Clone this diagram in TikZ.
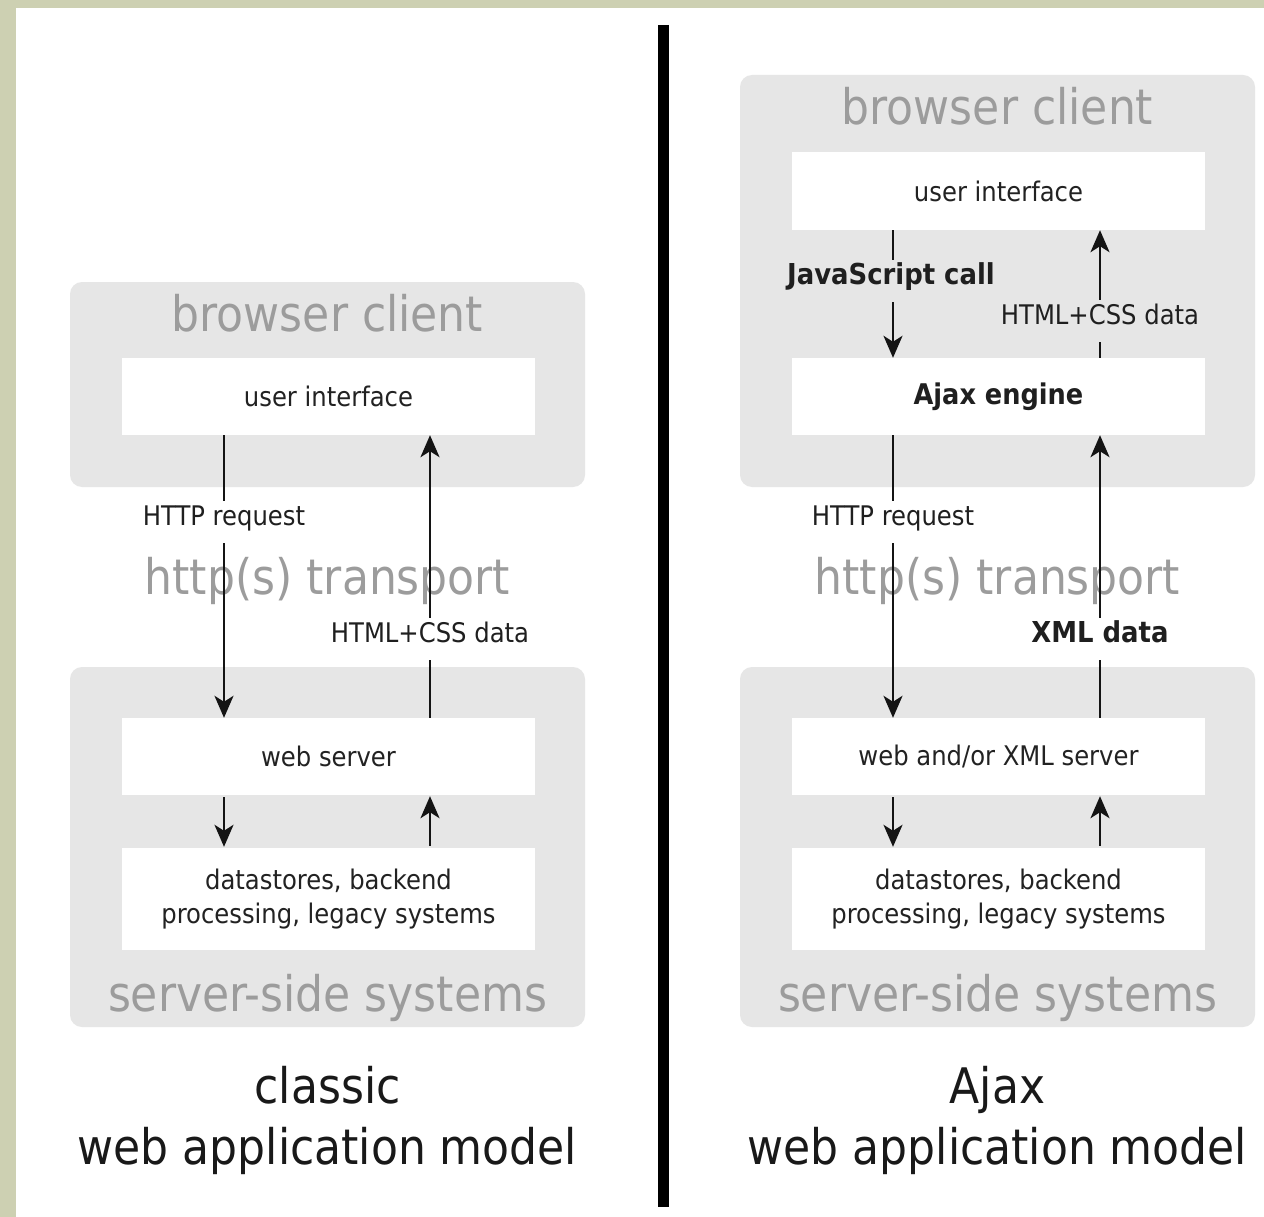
\documentclass[tikz,border=0pt]{standalone}
\usepackage{fontspec}
\setmainfont{DejaVu Sans Condensed}
\usetikzlibrary{arrows.meta}
\definecolor{beige}{HTML}{CDD0B2}
\definecolor{panel}{HTML}{E6E6E6}
\definecolor{ttl}{HTML}{9C9C9C}
\definecolor{ink}{HTML}{222222}
\tikzset{
  panelbox/.style={fill=panel, rounded corners=12pt, draw=none, minimum width=515pt, inner sep=0pt},
  inbox/.style={fill=white, draw=none, minimum width=413pt, inner sep=0pt, text=ink, align=center,
    font=\fontsize{27}{34}\selectfont},
  bigttl/.style={text=ttl, inner sep=0pt, text height=0.75em, text depth=0.05em, font=\fontsize{49}{60}\selectfont},
  bottomttl/.style={text=black!90, inner sep=0pt, align=center, font=\fontsize{49}{61}\selectfont},
  lbl/.style={text=black!88, inner xsep=2pt, inner ysep=0pt, minimum height=42pt,
    text height=0.75em, text depth=0.05em, font=\fontsize{27}{34}\selectfont},
  blbl/.style={lbl, font=\fontsize{28.8}{34}\selectfont\bfseries},
  ln/.style={line width=2.5pt, black!92},
  arr/.style={ln, -{Stealth[length=22pt, width=19pt, inset=6pt]}},
}
\begin{document}
\begin{tikzpicture}[x=1pt, y=-1pt]
\useasboundingbox (0,0) rectangle (1264,1217);
\fill[beige] (0,0) rectangle (1264,1217);
\fill[white] (16,8) rectangle (1264,1217);

% divider
\coordinate (divtop) at (663,25);
\coordinate (divbot) at (663,1207);
\draw[line width=11pt, black] (divtop) -- (divbot);

% ===== classic (left) =====
\node[panelbox, minimum height=205pt] (bcL) at (327.5,384.5) {};
\node[bigttl] (bcLt) at (327.5,328) {browser client};
\node[inbox, minimum height=77pt] (uiL) at (328.5,396.5) {user interface};

\node[panelbox, minimum height=360pt] (ssL) at (327.5,847) {};
\node[inbox, minimum height=77pt] (wsL) at (328.5,756.5) {web server};
\node[inbox, minimum height=102pt] (dsL) at (328.5,899) {datastores, backend\\processing, legacy systems};
\node[bigttl] (ssLt) at (327.5,1008) {server-side systems};

\node[bigttl] (trL) at (327.5,591) {http(s) transport};

\node[lbl] (hrL) at (224,522) {HTTP request};
\node[lbl] (hcL) at (430,639) {HTML+CSS data};

\draw[ln] (uiL.south -| hrL) -- (hrL);
\draw[arr] (hrL) -- (wsL.north -| hrL);
\draw[ln] (wsL.north -| hcL) -- (hcL);
\draw[arr] (hcL) -- (uiL.south -| hcL);

\draw[arr, shorten <=2pt, shorten >=1pt] (wsL.south -| hrL) -- (dsL.north -| hrL);
\draw[arr, shorten <=2pt, shorten >=1pt] (dsL.north -| hcL) -- (wsL.south -| hcL);

\node[bottomttl] (capL) at (327.5,1120) {classic\\web application model};

% ===== Ajax (right) =====
\node[panelbox, minimum height=412pt] (bcR) at (997.5,281) {};
\node[bigttl] (bcRt) at (997.5,121) {browser client};
\node[inbox, minimum height=78pt] (uiR) at (998.5,191) {user interface};
\node[inbox, minimum height=77pt, font=\fontsize{28.5}{34}\selectfont\bfseries, text=black!88] (ajR) at (998.5,396.5) {Ajax engine};

\node[blbl] (jsR) at (891,281) {JavaScript call};
\node[lbl] (hcR) at (1100,321) {HTML+CSS data};
\draw[ln] (uiR.south -| 893,0) -- (jsR.north -| 893,0);
\draw[arr] (jsR.south -| 893,0) -- (ajR.north -| 893,0);
\draw[ln] (ajR.north -| hcR) -- (hcR);
\draw[arr] (hcR) -- (uiR.south -| hcR);

\node[panelbox, minimum height=360pt] (ssR) at (997.5,847) {};
\node[inbox, minimum height=77pt] (wsR) at (998.5,756.5) {web and/or XML server};
\node[inbox, minimum height=102pt] (dsR) at (998.5,899) {datastores, backend\\processing, legacy systems};
\node[bigttl] (ssRt) at (997.5,1008) {server-side systems};

\node[bigttl] (trR) at (997.5,591) {http(s) transport};

\node[lbl] (hrR) at (893,522) {HTTP request};
\node[blbl] (xmR) at (1100,639) {XML data};

\draw[ln] (ajR.south -| hrR) -- (hrR);
\draw[arr] (hrR) -- (wsR.north -| hrR);
\draw[ln] (wsR.north -| xmR) -- (xmR);
\draw[arr] (xmR) -- (ajR.south -| xmR);

\draw[arr, shorten <=2pt, shorten >=1pt] (wsR.south -| hrR) -- (dsR.north -| hrR);
\draw[arr, shorten <=2pt, shorten >=1pt] (dsR.north -| xmR) -- (wsR.south -| xmR);

\node[bottomttl] (capR) at (997.5,1120) {Ajax\\web application model};
\end{tikzpicture}
\end{document}
